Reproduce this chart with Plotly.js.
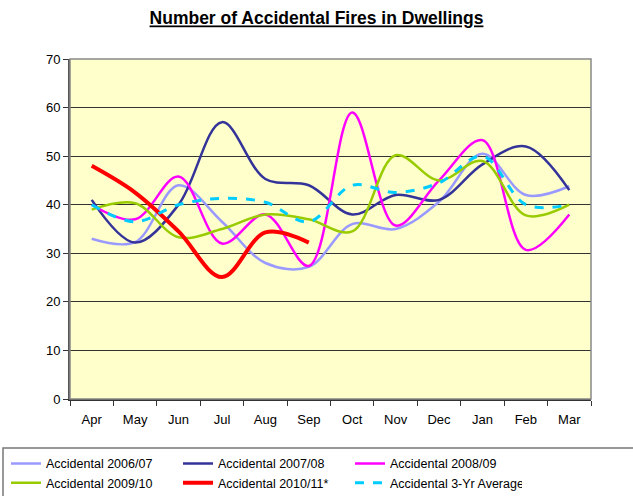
<!DOCTYPE html>
<html>
<head>
<meta charset="utf-8">
<script src="https://cdn.plot.ly/plotly-3.0.1.min.js"></script>
<style>html,body{margin:0;padding:0;background:#fff;}#chart{width:633px;height:496px;}</style>
</head>
<body>
<div id="chart"></div>
<script>
const months = ["Apr","May","Jun","Jul","Aug","Sep","Oct","Nov","Dec","Jan","Feb","Mar"];
const acc0607 = [33, 32.3, 44, 36.5, 28, 27.2, 36, 35, 40.6, 50.5, 42, 43.8];
const acc0708 = [41, 32.2, 40, 57, 45.3, 44, 38, 42, 41, 48.3, 52, 43];
const acc0809 = [40, 37, 45.8, 32, 38, 27.4, 59, 35.7, 45, 53.3, 30.7, 38];
const acc0910 = [39, 40.3, 33.3, 35, 38, 37, 34.5, 50.2, 45, 49, 37.8, 40];
const acc1011 = [48, 42.5, 34.5, 25.1, 34.3, 32.2];
const acc3yr  = [40, 36.5, 40, 41.3, 40.5, 36.5, 44, 42.5, 44.5, 50, 40, 40];
const seriesNames = ["Accidental 2006/07","Accidental 2007/08","Accidental 2008/09","Accidental 2009/10","Accidental 2010/11*","Accidental 3-Yr Average"];

function tr(y, name, color, width, dash){
  return {x: months.slice(0, y.length), y: y, name: name, type: 'scatter', mode: 'lines',
    line: {color: color, width: width, shape: 'spline', smoothing: 1, dash: dash || 'solid'}};
}
const data = [
  tr(acc0607, seriesNames[0], '#9999FF', 2.5),
  tr(acc0708, seriesNames[1], '#333399', 2.5),
  tr(acc0809, seriesNames[2], '#FF00FF', 2.5),
  tr(acc0910, seriesNames[3], '#99CC00', 2.5),
  tr(acc1011, seriesNames[4], '#FF0000', 4),
  tr(acc3yr,  seriesNames[5], '#00CCFF', 3, 'dash')
];
const layout = {
  width: 633, height: 496,
  margin: {l: 70, r: 42, t: 59, b: 97},
  paper_bgcolor: '#FFFFFF', plot_bgcolor: '#FFFFCC',
  font: {family: 'Liberation Sans, Arial, sans-serif', size: 12, color: '#000'},
  title: {text: '<b><u>Number of Accidental Fires in Dwellings</u></b>', x: 0.5, xanchor: 'center', y: 0.963, yanchor: 'middle', font: {size: 17.5, color: '#000'}},
  xaxis: {type: 'category', categoryorder: 'array', categoryarray: months, range: [-0.5, 11.5],
    showline: true, linecolor: '#333', linewidth: 1.5, ticks: 'outside', tickson: 'boundaries', ticklen: 5, tickcolor: '#333',
    showgrid: false, zeroline: false, tickfont: {size: 13}, ticklabelstandoff: 8},
  yaxis: {range: [0, 70], dtick: 10, showline: true, linecolor: '#555', linewidth: 2, ticks: 'outside', ticklen: 5, tickcolor: '#333',
    showgrid: true, gridcolor: '#333', gridwidth: 1, zeroline: false, tickfont: {size: 13}},
  shapes: [
    {type: 'rect', xref: 'paper', yref: 'paper', x0: 0, x1: 1, y0: 0, y1: 1, line: {color: '#888', width: 1.5}, layer: 'above'},
    {type: 'rect', xref: 'paper', yref: 'paper', x0: (3-70)/521, x1: (640-70)/521, y0: (399-448)/340, y1: (399-500)/340, line: {color: '#777', width: 1.5}, fillcolor: 'rgba(0,0,0,0)', layer: 'below'}
  ],
  legend: {orientation: 'h', xref: 'container', yref: 'container', x: 6/633, xanchor: 'left', y: 0.095, yanchor: 'top',
    borderwidth: 0, bgcolor: 'rgba(0,0,0,0)', entrywidth: 127, entrywidthmode: 'pixels',
    font: {size: 12.5}, tracegroupgap: 0, traceorder: 'normal'},
  showlegend: true
};
Plotly.newPlot('chart', data, layout, {displayModeBar: false, staticPlot: true});
</script>
</body>
</html>
